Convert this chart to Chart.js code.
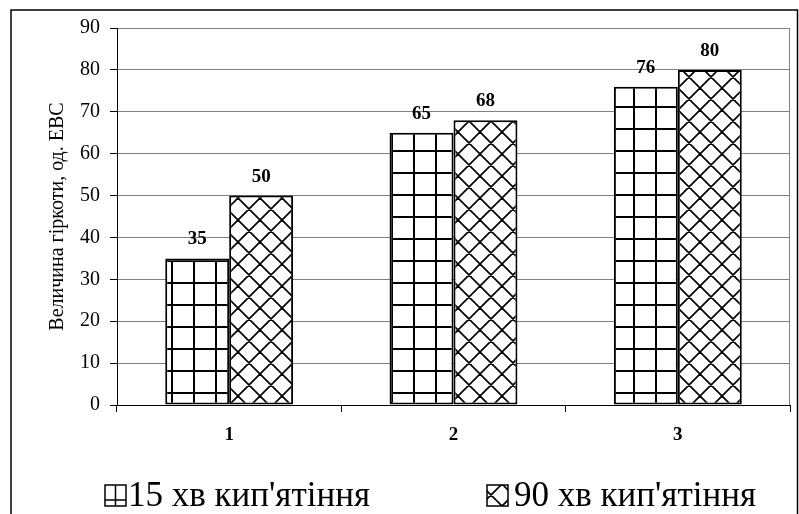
<!DOCTYPE html>
<html><head><meta charset="utf-8">
<script src="https://cdn.jsdelivr.net/npm/chart.js@4.4.1/dist/chart.umd.min.js"></script>
<style>html,body{margin:0;padding:0;background:#fff;overflow:hidden}#wrap{width:799px;height:514px;position:relative}</style>
</head><body><div id="wrap"><canvas id="c"></canvas></div>
<script>
const categories = ['1', '2', '3'];
const series15 = [35, 65, 76];
const series90 = [50, 68, 80];
const seriesNames = ["15 хв кип'ятіння", "90 хв кип'ятіння"];
const yTitle = 'Величина гіркоти, од. ЕВС';
const yMin = 0, yMax = 90, yStep = 10;

const SERIF = '"Liberation Serif", "Times New Roman", serif';

function gridPattern() {
  const t = 22, c = document.createElement('canvas');
  c.width = t; c.height = t;
  const g = c.getContext('2d');
  g.fillStyle = '#fff'; g.fillRect(0, 0, t, t);
  g.fillStyle = '#000';
  g.fillRect(17, 0, 2, t);
  g.fillRect(0, 18, t, 2);
  return g.createPattern(c, 'repeat');
}
function diamondPattern() {
  const t = 22, c = document.createElement('canvas');
  c.width = t; c.height = t;
  const g = c.getContext('2d');
  g.fillStyle = '#fff'; g.fillRect(0, 0, t, t);
  g.strokeStyle = '#000'; g.lineWidth = 1.7;
  g.beginPath();
  for (let k = -3; k <= 3; k++) {
    const cc = 18 + t * k;
    g.moveTo(cc - 40, -40); g.lineTo(cc + 80, 80);
    g.moveTo(cc + 40, -40); g.lineTo(cc - 80, 80);
  }
  g.stroke();
  return g.createPattern(c, 'repeat');
}
const patGrid = gridPattern();
const patDiamond = diamondPattern();

const decor = {
  id: 'decor',
  beforeDraw(chart) {
    const ctx = chart.ctx;
    ctx.save(); ctx.fillStyle = '#fff'; ctx.fillRect(0, 0, chart.width, chart.height); ctx.restore();
  },
  afterDatasetsDraw(chart) {
    const ctx = chart.ctx;
    ctx.save();
    ctx.fillStyle = '#000';
    ctx.font = 'bold 19px ' + SERIF;
    ctx.textAlign = 'center';
    ctx.textBaseline = 'alphabetic';
    chart.data.datasets.forEach((ds, i) => {
      chart.getDatasetMeta(i).data.forEach((bar, j) => {
        ctx.fillText(String(ds.data[j]), bar.x, bar.y - 14);
      });
    });
    ctx.restore();
  },
  afterDraw(chart) {
    const ctx = chart.ctx, a = chart.chartArea;
    ctx.save();
    // plot area right border
    ctx.strokeStyle = '#808080'; ctx.lineWidth = 1;
    ctx.beginPath(); ctx.moveTo(Math.round(a.right) - 0.5, a.top); ctx.lineTo(Math.round(a.right) - 0.5, a.bottom); ctx.stroke();
    // outer border
    ctx.strokeStyle = '#000'; ctx.lineWidth = 1.5;
    ctx.beginPath();
    ctx.moveTo(11, 520); ctx.lineTo(11, 10); ctx.lineTo(797.5, 10); ctx.lineTo(797.5, 520);
    ctx.stroke();
    // legend
    const by = 485, bs = 21;
    ctx.font = '35px ' + SERIF;
    ctx.textBaseline = 'alphabetic';
    ctx.textAlign = 'left';
    // item 1
    let bx = 105;
    ctx.fillStyle = '#fff'; ctx.fillRect(bx, by, bs, bs);
    ctx.strokeStyle = '#000'; ctx.lineWidth = 1.5;
    ctx.strokeRect(bx, by, bs, bs);
    ctx.beginPath();
    ctx.moveTo(bx + bs / 2, by); ctx.lineTo(bx + bs / 2, by + bs);
    ctx.moveTo(bx, by + bs * 0.72); ctx.lineTo(bx + bs, by + bs * 0.72);
    ctx.stroke();
    ctx.fillStyle = '#000';
    ctx.fillText(seriesNames[0], 128, 506);
    // item 2
    bx = 487;
    ctx.fillStyle = patDiamond; ctx.fillRect(bx, by, bs, bs);
    ctx.strokeStyle = '#000'; ctx.lineWidth = 1.5;
    ctx.strokeRect(bx, by, bs, bs);
    ctx.fillStyle = '#000';
    ctx.fillText(seriesNames[1], 514, 506);
    ctx.restore();
  }
};

new Chart(document.getElementById('c'), {
  type: 'bar',
  data: {
    labels: categories,
    datasets: [
      { label: seriesNames[0], data: series15, backgroundColor: patGrid, borderColor: '#000', borderWidth: 2, borderSkipped: false },
      { label: seriesNames[1], data: series90, backgroundColor: patDiamond, borderColor: '#000', borderWidth: 2, borderSkipped: false }
    ]
  },
  options: {
    responsive: true,
    maintainAspectRatio: false,
    animation: false,
    devicePixelRatio: 1,
    layout: { padding: { top: 28, right: 9, left: 0, bottom: 0 } },
    datasets: { bar: { categoryPercentage: 0.57, barPercentage: 1.0 } },
    plugins: { legend: { display: false }, tooltip: { enabled: false }, title: { display: false } },
    scales: {
      x: {
        ticks: { color: '#000', font: { family: SERIF, size: 19, weight: 'bold' }, padding: 12 },
        grid: { drawOnChartArea: false, tickColor: '#000', tickLength: 7, offset: true },
        border: { color: '#000', width: 1 },
        afterFit(s) { s.height = 109; }
      },
      y: {
        min: yMin, max: yMax,
        ticks: { stepSize: yStep, color: '#000', font: { family: SERIF, size: 20 }, padding: 10 },
        grid: { color: '#808080', tickColor: '#000', tickLength: 7, lineWidth: 1 },
        border: { color: '#000', width: 1 },
        title: { display: true, text: yTitle, color: '#000', font: { family: SERIF, size: 20 }, padding: { top: 45.5, bottom: 0 } },
        afterFit(s) { s.width = 117; }
      }
    }
  },
  plugins: [decor]
});
</script></body></html>
